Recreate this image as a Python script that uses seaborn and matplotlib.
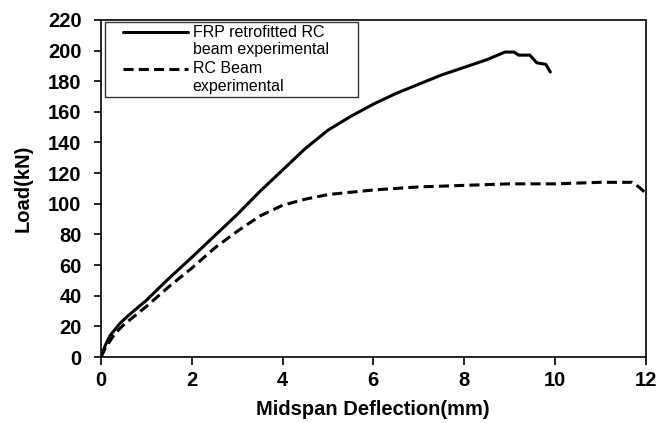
import matplotlib
matplotlib.use("Agg")
import matplotlib.pyplot as plt
import seaborn as sns
import pandas as pd
import numpy as np

frp_x = [0, 0.1, 0.2, 0.42, 0.6, 1.0, 1.45, 2.0, 2.5, 3.0, 3.5, 4.0, 4.5, 5.0, 5.5, 6.0, 6.5, 7.0, 7.5, 8.0, 8.5, 8.9, 9.1, 9.2, 9.45, 9.6, 9.8, 9.9]
frp_y = [0, 8, 14, 22, 27, 37, 50, 65, 79, 93, 108, 122, 136, 148, 157, 165, 172, 178, 184, 189, 194, 199, 199, 197, 197, 192, 191, 186]

rc_x = [0, 0.1, 0.3, 0.5, 1.0, 1.5, 2.0, 2.5, 3.0, 3.5, 4.0, 4.5, 5.0, 6.0, 7.0, 8.0, 9.0, 10.0, 11.0, 11.7, 11.85, 12.0]
rc_y = [0, 6, 15, 21, 33, 46, 58, 71, 82, 92, 99, 103, 106, 109, 111, 112, 113, 113, 114, 114, 111, 107]

labels = ["FRP retrofitted RC\nbeam experimental", "RC Beam\nexperimental"]
x_ticks = [0, 2, 4, 6, 8, 10, 12]
y_ticks = list(range(0, 221, 20))

df = pd.concat([
    pd.DataFrame({"x": frp_x, "y": frp_y, "series": labels[0]}),
    pd.DataFrame({"x": rc_x, "y": rc_y, "series": labels[1]}),
], ignore_index=True)

sns.set_theme(style="ticks")
plt.rcParams["font.family"] = ["Liberation Sans", "DejaVu Sans"]
plt.rcParams["text.color"] = "black"
plt.rcParams["axes.labelcolor"] = "black"

fig = plt.figure(figsize=(6.57, 4.23), dpi=100)
ax = fig.add_axes([0.1537, 0.156, 0.829, 0.797])

sns.lineplot(data=df, x="x", y="y", style="series", sort=False,
             dashes={labels[0]: "", labels[1]: (3.3, 1.7)},
             color="black", linewidth=2.2, ax=ax, estimator=None)

ax.set_xlim(0, 12)
ax.set_ylim(0, 220)
ax.set_xticks(x_ticks)
ax.set_yticks(y_ticks)
for lab in ax.get_xticklabels() + ax.get_yticklabels():
    lab.set_fontweight("bold")
    lab.set_fontsize(14.5)
ax.tick_params(axis="x", direction="out", length=6, width=1.2, pad=4, colors="black")
ax.tick_params(axis="y", direction="out", length=5, width=1.2, pad=9, colors="black")
for s in ax.spines.values():
    s.set_color("black")
    s.set_linewidth(1.2)

ax.set_xlabel("Midspan Deflection(mm)", fontsize=14.5, fontweight="bold", labelpad=7, color="black")
ax.set_ylabel("Load(kN)", fontsize=14.5, fontweight="bold", labelpad=11, color="black")

fs = 11.5
leg = ax.legend(loc="upper left", bbox_to_anchor=(0.0073, 0, 0.464, 0.994), mode="expand",
                frameon=True, fancybox=False, fontsize=fs,
                borderaxespad=0, handlelength=5.0, labelspacing=0.25,
                borderpad=0.2, handletextpad=0.3)
leg.get_frame().set_edgecolor("black")
leg.get_frame().set_linewidth(1.0)
for t in leg.get_texts():
    t.set_color("black")
for h in leg.get_lines():
    h.set_linewidth(2.2)
    xd = np.asarray(h.get_xdata(), dtype=float)
    yd = np.asarray(h.get_ydata(), dtype=float)
    x0, x1 = xd[0], xd[-1]
    h.set_xdata(np.linspace(x0 + 0.19 * (x1 - x0), x1, len(xd)))
    h.set_ydata(yd + 0.6 * fs)

fig.savefig("out.png", dpi=100)
